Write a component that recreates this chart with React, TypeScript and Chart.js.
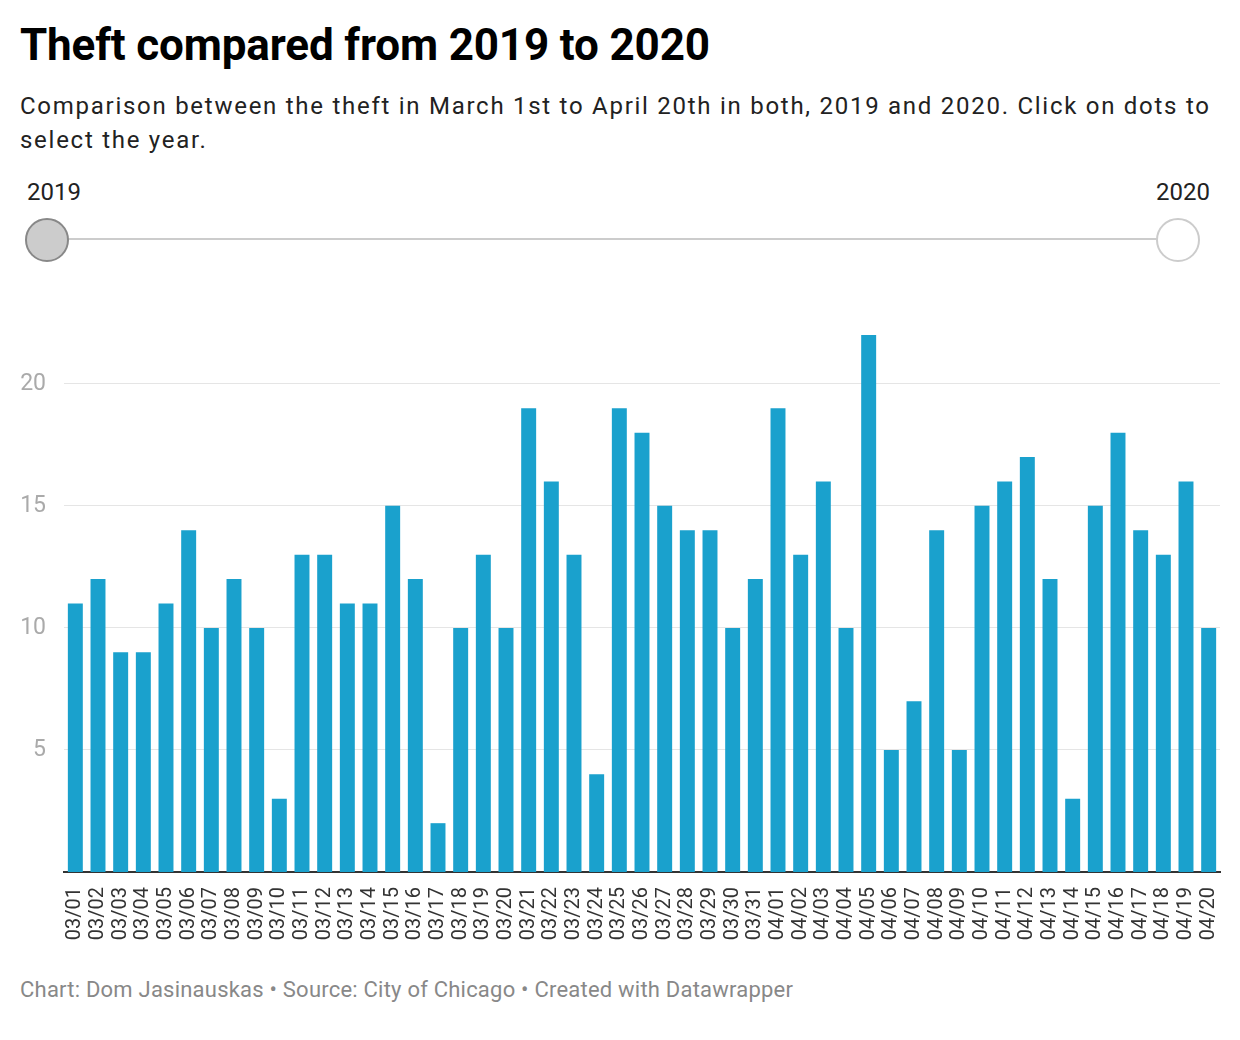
import React, { useEffect, useRef } from "react";
import { Chart, registerables } from "chart.js";

Chart.register(...registerables);

const categories = [
  "03/01", "03/02", "03/03", "03/04", "03/05", "03/06", "03/07", "03/08", "03/09", "03/10",
  "03/11", "03/12", "03/13", "03/14", "03/15", "03/16", "03/17", "03/18", "03/19", "03/20",
  "03/21", "03/22", "03/23", "03/24", "03/25", "03/26", "03/27", "03/28", "03/29", "03/30",
  "03/31", "04/01", "04/02", "04/03", "04/04", "04/05", "04/06", "04/07", "04/08", "04/09",
  "04/10", "04/11", "04/12", "04/13", "04/14", "04/15", "04/16", "04/17", "04/18", "04/19",
  "04/20",
];

const theft2019 = [
  11, 12, 9, 9, 11, 14, 10, 12, 10, 3,
  13, 13, 11, 11, 15, 12, 2, 10, 13, 10,
  19, 16, 13, 4, 19, 18, 15, 14, 14, 10,
  12, 19, 13, 16, 10, 22, 5, 7, 14, 5,
  15, 16, 17, 12, 3, 15, 18, 14, 13, 16,
  10,
];

const yTicks = [5, 10, 15, 20];
const yearLabels = ["2019", "2020"];

const FONT = "Roboto, 'Noto Sans', sans-serif";

export default function App() {
  const ref = useRef<HTMLCanvasElement>(null);

  useEffect(() => {
    if (!ref.current) return;
    const chart = new Chart(ref.current, {
      type: "bar",
      data: {
        labels: categories,
        datasets: [
          {
            data: theft2019,
            backgroundColor: "#1aa1cd",
            barPercentage: 0.66,
            categoryPercentage: 1,
          },
        ],
      },
      options: {
        animation: false,
        responsive: false,
        layout: { padding: { top: 35, right: 20, left: 0, bottom: 0 } },
        plugins: { legend: { display: false }, tooltip: { enabled: false } },
        scales: {
          x: {
            grid: { display: false, drawTicks: false },
            border: { display: true, color: "#333333", width: 2 },
            ticks: {
              autoSkip: false,
              maxRotation: 90,
              minRotation: 90,
              padding: 15,
              color: "#333333",
              font: { family: FONT, size: 20 },
            },
            afterFit: (s: any) => {
              s.height = 88;
              s.paddingLeft = 0;
              s.paddingRight = 0;
            },
          },
          y: {
            min: 0,
            max: 22,
            afterBuildTicks: (s: any) => {
              s.ticks = yTicks.map((v) => ({ value: v }));
            },
            grid: { color: "#e5e5e5", drawTicks: false, lineWidth: 1 },
            border: { display: false },
            ticks: {
              padding: 18,
              color: "#aaaaaa",
              font: { family: FONT, size: 23 },
            },
            afterFit: (s: any) => {
              s.width = 64;
              s.paddingTop = 0;
              s.paddingBottom = 0;
            },
          },
        },
      },
    });
    return () => chart.destroy();
  }, []);

  return (
    <div
      style={{
        position: "absolute",
        left: 0,
        top: 0,
        width: 1240,
        height: 1040,
        background: "#ffffff",
        fontFamily: FONT,
        color: "#000",
      }}
    >
      <div
        style={{
          position: "absolute",
          left: 20,
          top: 23,
          fontSize: 44,
          lineHeight: "44px",
          fontWeight: 700,
          whiteSpace: "nowrap",
          letterSpacing: -0.15,
        }}
      >
        Theft compared from 2019 to 2020
      </div>
      <div
        style={{
          position: "absolute",
          left: 20,
          top: 89,
          fontSize: 24,
          lineHeight: "34px",
          color: "#222",
          whiteSpace: "nowrap",
          letterSpacing: 1.73,
        }}
      >
        Comparison between the theft in March 1st to April 20th in both, 2019 and 2020. Click on dots to
        <br />
        select the year.
      </div>
      <div
        style={{
          position: "absolute",
          left: 27,
          top: 180,
          fontSize: 24,
          lineHeight: "24px",
          color: "#222",
        }}
      >
        {yearLabels[0]}
      </div>
      <div
        style={{
          position: "absolute",
          right: 30,
          top: 180,
          fontSize: 24,
          lineHeight: "24px",
          color: "#222",
        }}
      >
        {yearLabels[1]}
      </div>
      <svg
        width={1240}
        height={60}
        style={{ position: "absolute", left: 0, top: 210 }}
      >
        <line x1={68} y1={29} x2={1157} y2={29} stroke="#cccccc" strokeWidth={2} />
        <circle cx={47} cy={30} r={21} fill="#cccccc" stroke="#888888" strokeWidth={2} />
        <circle cx={1178} cy={30} r={21} fill="#ffffff" stroke="#cccccc" strokeWidth={2} />
      </svg>
      <canvas
        ref={ref}
        width={1240}
        height={660}
        style={{ position: "absolute", left: 0, top: 300, width: 1240, height: 660 }}
      />
      <div
        style={{
          position: "absolute",
          left: 20,
          top: 977,
          fontSize: 22,
          lineHeight: "26px",
          color: "#888888",
          whiteSpace: "nowrap",
          letterSpacing: 0.22,
        }}
      >
        Chart: Dom Jasinauskas • Source: City of Chicago • Created with Datawrapper
      </div>
    </div>
  );
}
